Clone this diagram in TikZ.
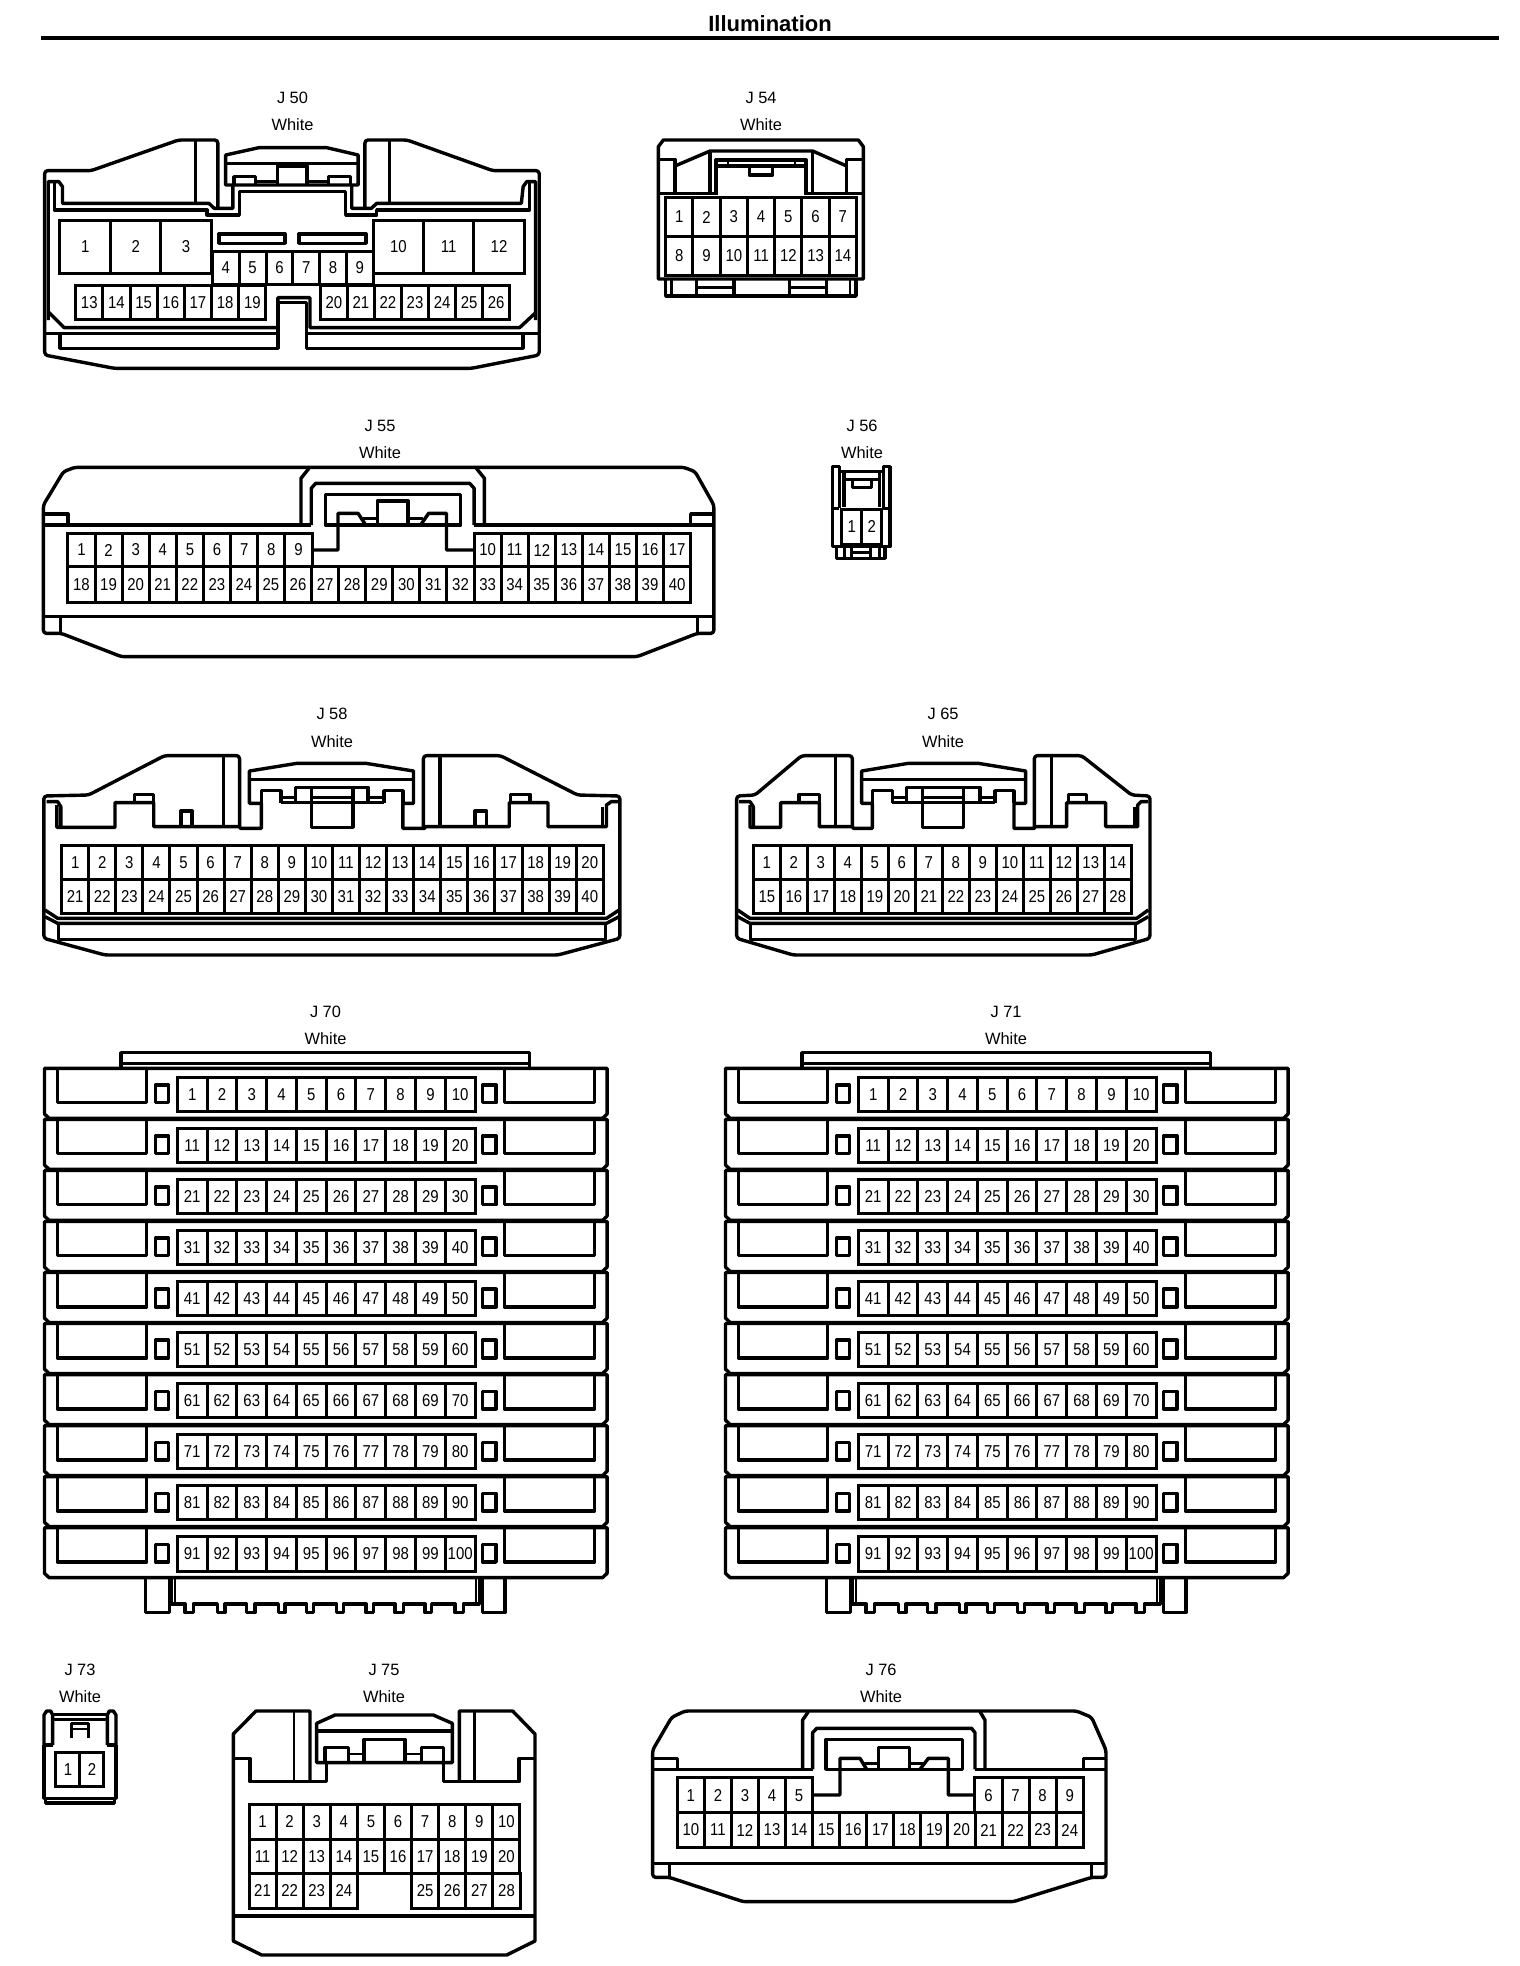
\documentclass[tikz,border=0pt]{standalone}
\usepackage{fontspec}
\setmainfont{Liberation Sans}
\newfontfamily\pinf[FakeStretch=.87]{Liberation Sans}
\tikzset{
  zs/.style n args={3}{xshift=(#1)*0.5pt,yshift=-(#2)*0.5pt,x=#3*0.5pt,y=-0.166667pt},
  pinbox/.style={draw=black,line width=1.5pt},
  pinlabel/.style={inner sep=0pt,font=\pinf\fontsize{8.6}{9}\selectfont},
  caplabel/.style={inner sep=0pt,font=\fontsize{8.2}{9}\selectfont},
  shell/.style={draw=black,line width=1.7pt,line join=round},
  outline/.style={shell,rounded corners=1.5pt},
  fine/.style={draw=black,line width=1.2pt,line join=round},
}
\newcommand{\prow}[7]{%
  \foreach \pn [count=\ci from 0] in {#6,...,#7} {%
    \pgfmathsetmacro\xa{#2+\ci*#3}%
    \pgfmathsetmacro\xb{\xa+#3}%
    \pgfmathsetmacro\xm{\xa+0.5*#3}%
    \pgfmathsetmacro\ym{(#4+#5)/2}%
    \draw[pinbox] (\xa,#4) rectangle (\xb,#5);
    \node[pinlabel] (#1-\pn) at (\xm,\ym) {\pn};
  }%
}
\newcommand{\jcap}[5]{%
  \node[caplabel] (#1a) at (#2,#3) {#5};
  \node[caplabel] (#1b) at (#2,#4) {White};
}
\newcommand{\jrack}[2]{%
  \begin{scope}[zs={30+#2}{990}{0.3827}]
    \draw[shell] (238,232)--(238,188)--(1305,188)--(1305,232);
    \draw[fine] (238,220)--(1305,220);
    \foreach \rw in {0,...,9} {%
      \pgfmathtruncatemacro\rfirst{\rw*10+1}%
      \pgfmathtruncatemacro\rlast{\rw*10+10}%
      \begin{scope}[shift={(0,\rw*153.1)}]
        \draw[shell] (38,235)--(38,372)--(50,385)--(1496,385)--(1508,372)--(1508,235)--cycle;
        \draw[shell] (72,238)--(72,338)--(305,338)--(305,238);
        \draw[shell] (1240,238)--(1240,338)--(1475,338)--(1475,238);
        \draw[shell] (328,285) rectangle (362,338);
        \draw[shell] (1182,285) rectangle (1218,338);
        \prow{#1}{385}{77.8}{262}{365}{\rfirst}{\rlast}
      \end{scope}
    }
  \end{scope}
  \begin{scope}[zs={130+#2}{1565}{0.33333}]
    \draw[shell] (46,42)--(46,143)--(118,143)--(118,42);
    \draw[shell] (1058,42)--(1058,143)--(1125,143)--(1125,42);
    \draw[fine] (135,42)--(135,117);
    \draw[fine] (1038,42)--(1038,117);
    \draw[shell] (123,42)--(123,117)--(165,117)--(165,143)--(190,143)--(190,117)
      --(262,117)--(262,143)--(285,143)--(285,117)
      --(350,117)--(350,143)--(375,143)--(375,117)
      --(445,117)--(445,143)--(465,143)--(465,117)
      --(530,117)--(530,143)--(550,143)--(550,117)
      --(620,117)--(620,143)--(640,143)--(640,117)
      --(708,117)--(708,143)--(730,143)--(730,117)
      --(795,117)--(795,143)--(820,143)--(820,117)
      --(885,117)--(885,143)--(905,143)--(905,117)
      --(975,117)--(975,143)--(1000,143)--(1000,117)
      --(1048,117)--(1048,42);
  \end{scope}
}
\begin{document}
\begin{tikzpicture}[x=0.5pt,y=-0.5pt,line cap=butt]
\path[use as bounding box,fill=white] (0,0) rectangle (1520,1966);
\node[inner sep=0pt,font=\bfseries\fontsize{11}{12}\selectfont] (title) at (770,24) {Illumination};
\coordinate (ruleL) at (41,38);
\coordinate (ruleR) at (1499,38);
\draw[line width=2pt] (ruleL) -- (ruleR);

\jcap{J50}{292.5}{98}{125}{J 50}
\jcap{J54}{761}{98}{125}{J 54}
\jcap{J55}{380}{426}{453}{J 55}
\jcap{J56}{862}{426}{453}{J 56}
\jcap{J58}{332}{714}{742}{J 58}
\jcap{J65}{943}{714}{742}{J 65}
\jcap{J70}{325.5}{1012}{1039}{J 70}
\jcap{J71}{1006}{1012}{1039}{J 71}
\jcap{J73}{80}{1670}{1697}{J 73}
\jcap{J75}{384}{1670}{1697}{J 75}
\jcap{J76}{881}{1670}{1697}{J 76}

% J50
\begin{scope}[zs={0}{60}{0.3571}]
  \draw[outline] (610,445)--(610,240)--(500,240)--(255,332)--(125,332)
    --(125,885)--(320,925)--(1320,925)--(1510,885)--(1510,332)
    --(1380,332)--(1140,240)--(1022,240)--(1022,445);
  \draw[shell] (547,240)--(547,430);
  \draw[shell] (1090,240)--(1090,430);
  \draw[shell] (135,780)--(135,365)--(165,365)--(175,380)--(175,430)--(585,430)--(600,445)--(652,445)--(652,375);
  \draw[shell] (985,375)--(985,445)--(1040,445)--(1055,430)--(1460,430)--(1465,380)--(1475,365)--(1500,365)--(1500,780);
  \draw[shell] (152,368)--(152,450)--(580,450)--(580,465)--(670,465)--(670,395)--(968,395)--(968,465)--(1055,465)--(1055,450)--(1482,450)--(1482,368);
  \draw[shell] (632,375)--(632,285)--(725,263)--(915,263)--(1003,285)--(1003,375)--cycle;
  \draw[shell] (635,310)--(1000,310);
  \draw[shell] (655,375)--(655,350)--(715,350)--(715,375);
  \draw[shell] (920,375)--(920,350)--(982,350)--(982,375);
  \draw[shell] (777,375)--(777,318)--(860,318)--(860,375);
  \draw[fine] (715,364)--(777,364);
  \draw[fine] (860,364)--(920,364);
  \prow{J50}{168}{141.3}{480}{640}{1}{3}
  \prow{J50}{1045}{141}{480}{640}{10}{12}
  \draw[shell] (613,522) rectangle (798,550);
  \draw[shell] (837,522) rectangle (1025,550);
  \prow{J50}{595}{75}{575}{672}{4}{9}
  \prow{J50}{212}{76.1}{677}{778}{13}{19}
  \prow{J50}{897}{75.8}{677}{778}{20}{26}
  \draw[shell] (135,755)--(180,803)--(778,803)--(778,713)--(868,713)--(868,803)--(1455,803)--(1500,758);
  \draw[fine] (125,820)--(778,820);
  \draw[fine] (858,820)--(1510,820);
  \draw[shell] (168,820)--(168,865)--(778,865)--(778,728)--(858,728)--(858,865)--(1465,865)--(1465,820);
\end{scope}

% J54
\begin{scope}[zs={620}{80}{0.33333}]
  \draw[shell] (115,200)--(130,180)--(715,180)--(730,200)--(730,597)--(115,597)--cycle;
  \draw[shell] (115,238)--(165,238)--(165,340);
  \draw[shell] (730,238)--(680,238)--(680,340);
  \draw[shell] (115,340)--(290,340);
  \draw[shell] (560,340)--(730,340);
  \draw[shell] (165,258)--(270,213)--(578,213)--(680,258);
  \draw[shell] (270,213)--(270,340);
  \draw[shell] (578,213)--(578,340);
  \draw[shell] (288,345)--(288,240)--(558,240)--(558,345);
  \draw[shell] (290,258)--(556,258);
  \draw[fine] (324,240)--(324,258);
  \draw[fine] (525,240)--(525,258);
  \draw[shell] (388,260)--(388,285)--(458,285)--(458,260);
  \prow{J54}{137}{81.8}{352}{470}{1}{7}
  \prow{J54}{137}{81.8}{470}{585}{8}{14}
  \draw[shell] (137,597)--(137,648)--(708,648)--(708,597);
  \draw[fine] (155,597)--(155,648);
  \draw[fine] (690,597)--(690,648);
  \draw[shell] (230,600)--(230,648);
  \draw[shell] (342,600)--(342,648);
  \draw[fine] (230,622)--(342,622);
  \draw[shell] (508,600)--(508,648);
  \draw[shell] (620,600)--(620,648);
  \draw[fine] (508,622)--(620,622);
\end{scope}

% J55
\begin{scope}[zs={30}{410}{0.4464}]
  \draw[outline] (30,285)--(75,185)--(100,172)--(1465,172)--(1490,185)--(1532,285)--(1532,670)--(1495,670)
    --(1360,740)--(205,740)--(70,670)--(30,670)--cycle;
  \draw[shell] (30,312)--(85,312)--(85,345);
  \draw[shell] (1532,312)--(1480,312)--(1480,345);
  \draw[shell] (30,345)--(630,345);
  \draw[shell] (995,345)--(1532,345);
  \draw[shell] (30,620)--(1532,620);
  \draw[shell] (68,620)--(68,670);
  \draw[shell] (1495,620)--(1495,670);
  \draw[shell] (607,345)--(607,205)--(625,175);
  \draw[shell] (1018,345)--(1018,205)--(1000,175);
  \draw[shell] (630,345)--(630,235)--(640,220)--(985,220)--(995,235)--(995,345);
  \draw[shell] (662,345)--(662,253)--(965,253)--(965,345)--cycle;
  \draw[shell] (632,420)--(690,420)--(690,310)--(735,310)--(752,345);
  \draw[fine] (745,325)--(778,325);
  \draw[shell] (778,345)--(778,273)--(847,273)--(847,345);
  \draw[fine] (847,325)--(880,325);
  \draw[shell] (875,345)--(893,310)--(933,310)--(933,420)--(995,420);
  \prow{J55}{85}{60.75}{370}{470}{1}{9}
  \prow{J55}{995}{60.65}{370}{470}{10}{17}
  \prow{J55}{85}{60.65}{470}{577}{18}{40}
\end{scope}

% J56
\begin{scope}[zs={800}{410}{0.33333}]
  \draw[shell] (118,295)--(97,295)--(97,170)--(118,170)--(118,295);
  \draw[shell] (250,295)--(270,295)--(270,170)--(250,170)--(250,295);
  \draw[shell] (97,295)--(97,410)--(270,410)--(270,295);
  \draw[shell] (118,185)--(250,185);
  \draw[shell] (132,208)--(238,208);
  \draw[shell] (132,185)--(132,290);
  \draw[shell] (238,185)--(238,290);
  \draw[shell] (158,212)--(158,233)--(215,233)--(215,212);
  \prow{J56}{125}{60}{298}{403}{1}{2}
  \draw[shell] (110,410)--(110,445)--(255,445)--(255,410);
  \draw[fine] (133,410)--(133,445);
  \draw[fine] (238,410)--(238,445);
  \draw[shell] (155,412)--(155,445);
  \draw[shell] (212,412)--(212,445);
  \draw[fine] (155,428)--(212,428);
\end{scope}

% J58
\begin{scope}[zs={30}{690}{0.3954}]
  \draw[outline] (530,412)--(530,197)--(340,197)--(148,315)--(35,318)--(35,745)--(190,795)
    --(1335,795)--(1492,745)--(1492,318)--(1385,315)--(1190,197)--(995,197)--(995,412);
  \draw[shell] (490,197)--(490,410);
  \draw[shell] (1037,197)--(1037,410);
  \draw[shell] (42,335)--(70,335)--(78,350)--(78,410);
  \draw[shell] (68,345)--(68,412)--(215,412)--(215,338)--(313,338)--(313,410)--(530,410)--(532,415)--(585,415)--(585,340)
    --(555,340)--(555,243)--(675,220)--(850,220)--(970,243)--(970,340)--(943,340)--(943,415)--(998,415)--(1000,410)
    --(1212,410)--(1212,338)--(1310,338)--(1310,410)--(1458,410)--(1458,345)--(1470,335)--(1490,335);
  \draw[shell] (1448,410)--(1448,350);
  \draw[shell] (265,338)--(265,313)--(313,313)--(313,338);
  \draw[shell] (1215,338)--(1215,313)--(1265,313)--(1265,338);
  \draw[shell] (382,410)--(382,363)--(410,363)--(410,410);
  \draw[shell] (1125,410)--(1125,363)--(1155,363)--(1155,410);
  \draw[shell] (557,268)--(968,268);
  \draw[shell] (585,340)--(585,302)--(635,302)--(635,340);
  \draw[shell] (895,340)--(895,302)--(943,302)--(943,340);
  \draw[shell] (672,340)--(672,292)--(855,292)--(855,340);
  \draw[fine] (635,322)--(672,322);
  \draw[fine] (855,322)--(895,322);
  \draw[fine] (635,338)--(895,338);
  \draw[shell] (712,292)--(712,412)--(817,412)--(817,292);
  \draw[fine] (712,322)--(817,322);
  \prow{J58}{80}{68.5}{465}{568}{1}{20}
  \prow{J58}{80}{68.5}{568}{670}{21}{40}
  \draw[shell] (38,660)--(70,685)--(1458,685)--(1490,660);
  \draw[shell] (38,680)--(70,700)--(1458,700)--(1490,680);
  \draw[shell] (72,700)--(72,748)--(1455,748)--(1455,700);
\end{scope}

% J65
\begin{scope}[zs={715}{690}{0.33333}]
  \draw[outline] (412,412)--(412,197)--(260,197)--(120,315)--(65,318)--(65,745)--(235,795)
    --(1130,795)--(1305,745)--(1305,318)--(1250,315)--(1100,197)--(958,197)--(958,412);
  \draw[shell] (362,197)--(362,410);
  \draw[shell] (1010,197)--(1010,410);
  \draw[shell] (72,335)--(105,335)--(115,350)--(115,410);
  \draw[shell] (105,345)--(105,412)--(197,412)--(197,338)--(313,338)--(313,410)--(412,410)--(415,415)--(472,415)--(472,340)
    --(440,340)--(440,243)--(580,220)--(790,220)--(932,243)--(932,340)--(897,340)--(897,415)--(958,415)--(960,410)
    --(1055,410)--(1055,338)--(1172,338)--(1172,410)--(1268,410)--(1268,345)--(1278,335)--(1300,335);
  \draw[shell] (1258,410)--(1258,350);
  \draw[shell] (252,338)--(252,313)--(313,313)--(313,338);
  \draw[shell] (1060,338)--(1060,313)--(1115,313)--(1115,338);
  \draw[shell] (442,268)--(930,268);
  \draw[shell] (472,340)--(472,302)--(532,302)--(532,340);
  \draw[shell] (840,340)--(840,302)--(897,302)--(897,340);
  \draw[shell] (575,340)--(575,292)--(795,292)--(795,340);
  \draw[fine] (532,322)--(575,322);
  \draw[fine] (795,322)--(840,322);
  \draw[fine] (532,338)--(840,338);
  \draw[shell] (622,292)--(622,412)--(745,412)--(745,292);
  \draw[fine] (622,322)--(745,322);
  \prow{J65}{115}{81}{465}{568}{1}{14}
  \prow{J65}{115}{81}{568}{670}{15}{28}
  \draw[shell] (68,660)--(105,685)--(1265,685)--(1300,660);
  \draw[shell] (68,680)--(105,700)--(1265,700)--(1300,680);
  \draw[shell] (107,700)--(107,748)--(1262,748)--(1262,700);
\end{scope}

\jrack{J70}{0}
\jrack{J71}{681}

% J73
\begin{scope}[zs={30}{1630}{0.33333}]
  \draw[shell] (42,345)--(42,255)--(50,243)--(62,243)--(68,255)--(68,345);
  \draw[shell] (258,345)--(258,255)--(250,243)--(238,243)--(232,255)--(232,345);
  \draw[shell] (68,253)--(232,253);
  \draw[fine] (68,268)--(232,268);
  \draw[shell] (125,325)--(125,280)--(175,280)--(175,325);
  \draw[fine] (125,297)--(175,297);
  \draw[shell] (42,345)--(42,505)--(258,505)--(258,345);
  \draw[shell] (42,345)--(68,345);
  \draw[shell] (232,345)--(258,345);
  \prow{J73}{78}{72}{367}{470}{1}{2}
  \draw[shell] (47,505)--(47,519)--(253,519)--(253,505);
\end{scope}

% J75
\begin{scope}[zs={220}{1630}{0.33333}]
  \draw[shell] (270,455)--(270,243)--(108,243)--(40,312)--(40,933)--(125,975)--(860,975)--(945,933)--(945,312)--(878,243)--(718,243)--(718,455);
  \draw[fine] (222,243)--(222,455);
  \draw[fine] (763,243)--(763,455);
  \draw[shell] (40,385)--(90,385)--(90,455)--(320,455)--(320,398);
  \draw[shell] (945,385)--(897,385)--(897,455)--(670,455)--(670,398);
  \draw[shell] (290,398)--(290,280)--(345,255)--(640,255)--(697,280)--(697,398)--cycle;
  \draw[shell] (290,303)--(697,303);
  \draw[shell] (315,398)--(315,352)--(385,352)--(385,398);
  \draw[shell] (605,398)--(605,352)--(670,352)--(670,398);
  \draw[shell] (432,398)--(432,328)--(555,328)--(555,398);
  \draw[fine] (385,372)--(432,372);
  \draw[fine] (555,372)--(605,372);
  \prow{J75}{87}{81.3}{522}{628}{1}{10}
  \prow{J75}{87}{81.3}{628}{730}{11}{20}
  \prow{J75}{87}{81.3}{730}{835}{21}{24}
  \prow{J75}{575}{81.3}{730}{835}{25}{28}
  \draw[shell] (40,858)--(945,858);
\end{scope}

% J76
\begin{scope}[zs={630}{1630}{0.33333}]
  \draw[outline] (68,360)--(125,262)--(165,243)--(1340,243)--(1385,262)--(1428,360)--(1428,742)--(1385,742)--(1150,815)
    --(340,815)--(118,742)--(68,742)--cycle;
  \draw[shell] (68,385)--(142,385)--(142,418);
  \draw[shell] (1428,385)--(1360,385)--(1360,418);
  \draw[shell] (68,418)--(548,418);
  \draw[shell] (1035,418)--(1428,418);
  \draw[shell] (68,700)--(1428,700);
  \draw[shell] (118,700)--(118,742);
  \draw[shell] (1385,700)--(1385,742);
  \draw[shell] (518,418)--(518,270)--(535,245);
  \draw[shell] (1065,418)--(1065,270)--(1050,245);
  \draw[shell] (548,418)--(548,308)--(560,295)--(1025,295)--(1035,308)--(1035,418);
  \draw[shell] (588,418)--(588,328)--(997,328)--(997,418)--cycle;
  \draw[shell] (552,495)--(630,495)--(630,385)--(690,385)--(710,418);
  \draw[fine] (700,400)--(745,400);
  \draw[shell] (745,418)--(745,352)--(838,352)--(838,418);
  \draw[fine] (838,400)--(885,400);
  \draw[shell] (870,418)--(895,385)--(955,385)--(955,495)--(1035,495);
  \prow{J76}{142}{81.2}{443}{548}{1}{5}
  \prow{J76}{1035}{81.2}{443}{548}{6}{9}
  \prow{J76}{142}{81.2}{548}{652}{10}{24}
\end{scope}
\end{tikzpicture}
\end{document}
